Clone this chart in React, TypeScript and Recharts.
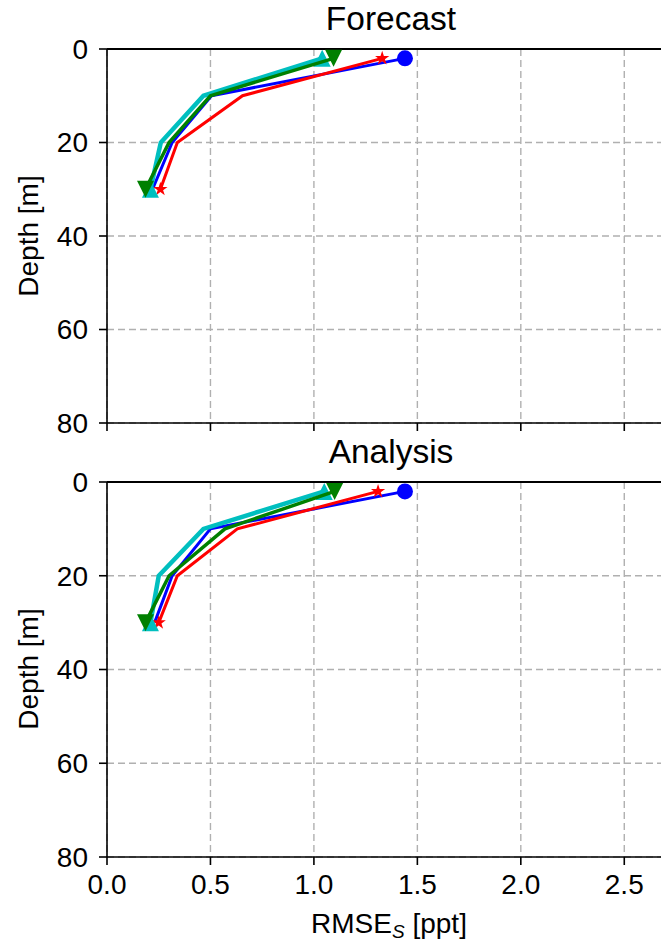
import React from 'react';
import { ScatterChart, Scatter, XAxis, YAxis, CartesianGrid, ReferenceLine } from 'recharts';

// depth levels [m]
const depths = [2, 10, 20, 30];

// RMSE of salinity [ppt] per experiment, forecast step
const forecastBlue = [1.44, 0.505, 0.315, 0.22];
const forecastRed = [1.33, 0.655, 0.34, 0.258];
const forecastCyan = [1.04, 0.466, 0.26, 0.21];
const forecastGreen = [1.095, 0.5, 0.3, 0.186];

// analysis step
const analysisBlue = [1.44, 0.5, 0.315, 0.23];
const analysisRed = [1.31, 0.63, 0.34, 0.25];
const analysisCyan = [1.05, 0.466, 0.25, 0.21];
const analysisGreen = [1.1, 0.57, 0.3, 0.186];

const xTicks = [0, 0.5, 1.0, 1.5, 2.0, 2.5];
const yTicks = [0, 20, 40, 60, 80];

const FONT = '"Liberation Sans", Arial, sans-serif';
const BLUE = '#0000ff';
const RED = '#ff0000';
const CYAN = '#00bfbf';
const GREEN = '#008000';

type Pt = { x: number; y: number; mark: boolean };

// markers only on the surface and deepest points
function toPoints(values: number[], markEnds = true, markLast = true): Pt[] {
  return values.map((v, i) => ({
    x: v,
    y: depths[i],
    mark: (i === 0 && markEnds) || (i === values.length - 1 && markLast),
  }));
}

function circle(color: string) {
  return (p: any) => (p.payload?.mark ? <circle cx={p.cx} cy={p.cy} r={8} fill={color} /> : <g />);
}

function triDown(color: string) {
  return (p: any) => {
    if (!p.payload?.mark) return <g />;
    const { cx, cy } = p;
    const s = 8.5;
    return <polygon points={`${cx - s},${cy - s} ${cx + s},${cy - s} ${cx},${cy + s}`} fill={color} />;
  };
}

function triUp(color: string) {
  return (p: any) => {
    if (!p.payload?.mark) return <g />;
    const { cx, cy } = p;
    const s = 8.5;
    return <polygon points={`${cx},${cy - s} ${cx - s},${cy + s} ${cx + s},${cy + s}`} fill={color} />;
  };
}

function star(color: string) {
  return (p: any) => {
    if (!p.payload?.mark) return <g />;
    const { cx, cy } = p;
    const outer = 7.5;
    const inner = outer * 0.382;
    const pts: string[] = [];
    for (let k = 0; k < 10; k++) {
      const r = k % 2 === 0 ? outer : inner;
      const a = -Math.PI / 2 + (k * Math.PI) / 5;
      pts.push(`${cx + r * Math.cos(a)},${cy + r * Math.sin(a)}`);
    }
    return <polygon points={pts.join(' ')} fill={color} />;
  };
}

const hideTick = () => <g />;

interface PanelProps {
  blue: number[];
  red: number[];
  cyan: number[];
  green: number[];
  height: number;
  bottomPad: number;
  axisHeight: number;
  showXLabels: boolean;
}

function Panel({ blue, red, cyan, green, height, bottomPad, axisHeight, showXLabels }: PanelProps) {
  return (
    <ScatterChart width={700} height={height} margin={{ top: 49, right: 24, bottom: bottomPad, left: 0 }}>
      <CartesianGrid strokeDasharray="7 4" stroke="#b0b0b0" strokeWidth={1.4} />
      <XAxis
        type="number"
        dataKey="x"
        domain={[0, 2.75]}
        ticks={xTicks}
        allowDataOverflow
        height={axisHeight}
        tickSize={8}
        tickMargin={9}
        axisLine={{ stroke: '#000', strokeWidth: 1.6 }}
        tickLine={{ stroke: '#000', strokeWidth: 1.6 }}
        tick={showXLabels ? { fontSize: 28, fill: '#000', fontFamily: FONT } : hideTick}
        tickFormatter={(v: number) => v.toFixed(1)}
      />
      <YAxis
        type="number"
        dataKey="y"
        domain={[0, 80]}
        ticks={yTicks}
        reversed
        width={107}
        tickSize={8}
        tickMargin={11}
        axisLine={{ stroke: '#000', strokeWidth: 1.6 }}
        tickLine={{ stroke: '#000', strokeWidth: 1.6 }}
        tick={{ fontSize: 28, fill: '#000', fontFamily: FONT }}
      />
      <ReferenceLine y={0} stroke="#000" strokeWidth={1.8} />
      <Scatter data={toPoints(blue, true, false)} line={{ stroke: BLUE, strokeWidth: 3 }} lineJointType="linear" shape={circle(BLUE)} isAnimationActive={false} />
      <Scatter data={toPoints(red)} line={{ stroke: RED, strokeWidth: 3 }} lineJointType="linear" shape={star(RED)} isAnimationActive={false} />
      <Scatter data={toPoints(cyan)} line={{ stroke: CYAN, strokeWidth: 4.5 }} lineJointType="linear" shape={triUp(CYAN)} isAnimationActive={false} />
      <Scatter data={toPoints(green)} line={{ stroke: GREEN, strokeWidth: 3.5 }} lineJointType="linear" shape={triDown(GREEN)} isAnimationActive={false} />
    </ScatterChart>
  );
}

export default function App() {
  return (
    <div style={{ position: 'absolute', left: 0, top: 0, width: 661, height: 945, overflow: 'hidden', background: '#fff', fontFamily: FONT }}>
      <div style={{ position: 'absolute', left: 0, top: 0 }}>
        <Panel blue={forecastBlue} red={forecastRed} cyan={forecastCyan} green={forecastGreen} height={440} bottomPad={5} axisHeight={12} showXLabels={false} />
      </div>
      <div style={{ position: 'absolute', left: 0, top: 433 }}>
        <Panel blue={analysisBlue} red={analysisRed} cyan={analysisCyan} green={analysisGreen} height={512} bottomPad={38} axisHeight={50} showXLabels />
      </div>
      <svg width={661} height={945} style={{ position: 'absolute', left: 0, top: 0, pointerEvents: 'none' }}>
        <g fontFamily={FONT} fill="#000">
          <text x={391} y={30} fontSize={33.5} textAnchor="middle">Forecast</text>
          <text x={391} y={463} fontSize={33.5} textAnchor="middle">Analysis</text>
          <text x={38} y={236} fontSize={28} textAnchor="middle" transform="rotate(-90 38 236)">Depth [m]</text>
          <text x={38} y={669} fontSize={28} textAnchor="middle" transform="rotate(-90 38 669)">Depth [m]</text>
          <text x={389} y={933} fontSize={28} textAnchor="middle">
            RMSE<tspan fontSize={19} fontStyle="italic" dy={5}>S</tspan>
            <tspan dy={-5}> [ppt]</tspan>
          </text>
        </g>
      </svg>
    </div>
  );
}
